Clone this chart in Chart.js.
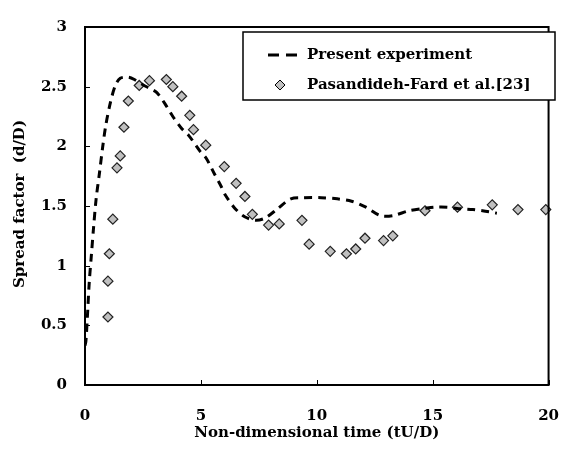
<!DOCTYPE html>
<html>
<head>
<meta charset="utf-8">
<script src="https://cdn.jsdelivr.net/npm/chart.js@4/dist/chart.umd.min.js"></script>
<style>
  html, body { margin: 0; padding: 0; background: #fff; }
  #wrap { width: 581px; height: 455px; }
</style>
</head>
<body>
<div id="wrap"><canvas id="spreadChart" width="581" height="455"></canvas></div>
<script>
// data
const presentT = [0, 0.04, 0.1, 0.18, 0.28, 0.37, 0.48, 0.62, 0.76, 0.9, 1.1, 1.31, 1.52, 1.86, 2.13, 2.55, 2.75, 3.1, 3.44, 3.79, 4.17, 4.48, 4.96, 5.23, 5.58, 5.86, 6.06, 6.47, 6.89, 7.37, 7.78, 8.33, 8.88, 9.43, 10.19, 10.88, 11.5, 12.12, 12.74, 13.29, 13.98, 14.67, 15.08, 15.63, 16.05, 16.74, 17.15, 17.77];
const presentD = [0.33, 0.37, 0.56, 0.85, 1.10, 1.32, 1.56, 1.77, 1.99, 2.18, 2.37, 2.51, 2.57, 2.58, 2.56, 2.51, 2.49, 2.45, 2.36, 2.25, 2.15, 2.09, 1.96, 1.90, 1.77, 1.67, 1.59, 1.48, 1.41, 1.38, 1.40, 1.48, 1.56, 1.57, 1.57, 1.56, 1.54, 1.49, 1.42, 1.42, 1.46, 1.48, 1.49, 1.49, 1.48, 1.47, 1.46, 1.44];

const refT = [0.99, 0.99, 1.05, 1.2, 1.38, 1.52, 1.68, 1.87, 2.34, 2.78, 3.51, 3.79, 4.17, 4.52, 4.68, 5.21, 6.01, 6.52, 6.9, 7.22, 7.92, 8.38, 9.36, 9.67, 10.58, 11.28, 11.68, 12.08, 12.88, 13.28, 14.67, 16.07, 17.57, 18.68, 19.88];
const refD = [0.57, 0.87, 1.10, 1.39, 1.82, 1.92, 2.16, 2.38, 2.51, 2.55, 2.56, 2.50, 2.42, 2.26, 2.14, 2.01, 1.83, 1.69, 1.58, 1.43, 1.34, 1.35, 1.38, 1.18, 1.12, 1.10, 1.14, 1.23, 1.21, 1.25, 1.46, 1.49, 1.51, 1.47, 1.47];

const seriesNames = ['Present experiment', 'Pasandideh-Fard et al.[23]'];
const xTitle = 'Non-dimensional time (tU/D)';
const yTitle = 'Spread factor  (d/D)';

const FONT = '"DejaVu Serif", serif';

// frame, inward ticks, y title and boxed legend
const framePlugin = {
  id: 'frame',
  afterDraw(chart) {
    const { ctx, chartArea: a, scales } = chart;
    ctx.save();
    ctx.strokeStyle = '#000';
    ctx.lineWidth = 2;
    ctx.strokeRect(a.left, a.top, a.right - a.left, a.bottom - a.top);
    ctx.lineWidth = 1;
    scales.y.ticks.forEach(t => {
      const py = Math.round(scales.y.getPixelForValue(t.value)) + 0.5;
      ctx.beginPath(); ctx.moveTo(a.left, py); ctx.lineTo(a.left + 5, py); ctx.stroke();
    });
    scales.x.ticks.forEach(t => {
      const px = Math.round(scales.x.getPixelForValue(t.value)) + 0.5;
      ctx.beginPath(); ctx.moveTo(px, a.bottom); ctx.lineTo(px, a.bottom - 5); ctx.stroke();
    });

    // y axis title
    ctx.fillStyle = '#000';
    ctx.font = 'bold 15px ' + FONT;
    ctx.textAlign = 'center';
    ctx.textBaseline = 'middle';
    ctx.translate(20, 204);
    ctx.rotate(-Math.PI / 2);
    ctx.fillText(yTitle, 0, 0);
    ctx.restore();

    // legend
    ctx.save();
    const lx = 243, ly = 32, lw = 312, lh = 68;
    ctx.fillStyle = '#fff';
    ctx.fillRect(lx, ly, lw, lh);
    ctx.strokeStyle = '#000';
    ctx.lineWidth = 1.5;
    ctx.strokeRect(lx, ly, lw, lh);
    ctx.lineWidth = 3;
    ctx.setLineDash([11, 7]);
    ctx.beginPath(); ctx.moveTo(268, 55); ctx.lineTo(297, 55); ctx.stroke();
    ctx.setLineDash([]);
    ctx.lineWidth = 1;
    ctx.fillStyle = '#c0c0c0';
    ctx.beginPath();
    ctx.moveTo(280, 80); ctx.lineTo(285, 85); ctx.lineTo(280, 90); ctx.lineTo(275, 85); ctx.closePath();
    ctx.fill(); ctx.stroke();
    ctx.fillStyle = '#000';
    ctx.font = 'bold 15px ' + FONT;
    ctx.textAlign = 'left';
    ctx.textBaseline = 'middle';
    ctx.fillText(seriesNames[0], 307, 55);
    ctx.fillText(seriesNames[1], 307, 85);
    ctx.restore();
  }
};

const data = {
  datasets: [{
    label: seriesNames[0],
    data: presentT.map((t, i) => ({ x: t, y: presentD[i] })),
    showLine: true,
    borderColor: '#000',
    borderWidth: 3,
    borderDash: [8, 6],
    pointRadius: 0,
    tension: 0.3,
    fill: false,
  }, {
    label: seriesNames[1],
    data: refT.map((t, i) => ({ x: t, y: refD[i] })),
    showLine: false,
    pointStyle: 'rectRot',
    pointRadius: 5,
    pointBackgroundColor: '#c0c0c0',
    pointBorderColor: '#222',
    pointBorderWidth: 1.2,
    clip: false,
  }]
};

const config = {
  type: 'scatter',
  data: data,
  options: {
    responsive: false,
    animation: false,
    layout: { padding: { top: 16, right: 12, left: 0, bottom: 0 } },
    plugins: {
      legend: { display: false },
      tooltip: { enabled: false },
    },
    scales: {
      x: {
        type: 'linear',
        min: 0, max: 20,
        grid: { display: false, drawTicks: false },
        border: { display: false },
        ticks: { stepSize: 5, padding: 22, color: '#000', font: { family: FONT, size: 15, weight: 'bold' } },
        title: { display: true, text: xTitle, color: '#000', padding: { top: 0, bottom: 13 }, font: { family: FONT, size: 15, weight: 'bold' } },
        afterFit: s => { s.height = 70; },
      },
      y: {
        min: 0, max: 3,
        grid: { display: false, drawTicks: false },
        border: { display: false },
        ticks: {
          stepSize: 0.5, padding: 18, color: '#000',
          font: { family: FONT, size: 15, weight: 'bold' },
          callback: v => String(v),
        },
        afterFit: s => { s.width = 85; },
      }
    }
  },
  plugins: [framePlugin]
};

window.addEventListener('DOMContentLoaded', () => {
  const ctx = document.getElementById('spreadChart').getContext('2d');
  new Chart(ctx, config);
});
</script>
</body>
</html>
